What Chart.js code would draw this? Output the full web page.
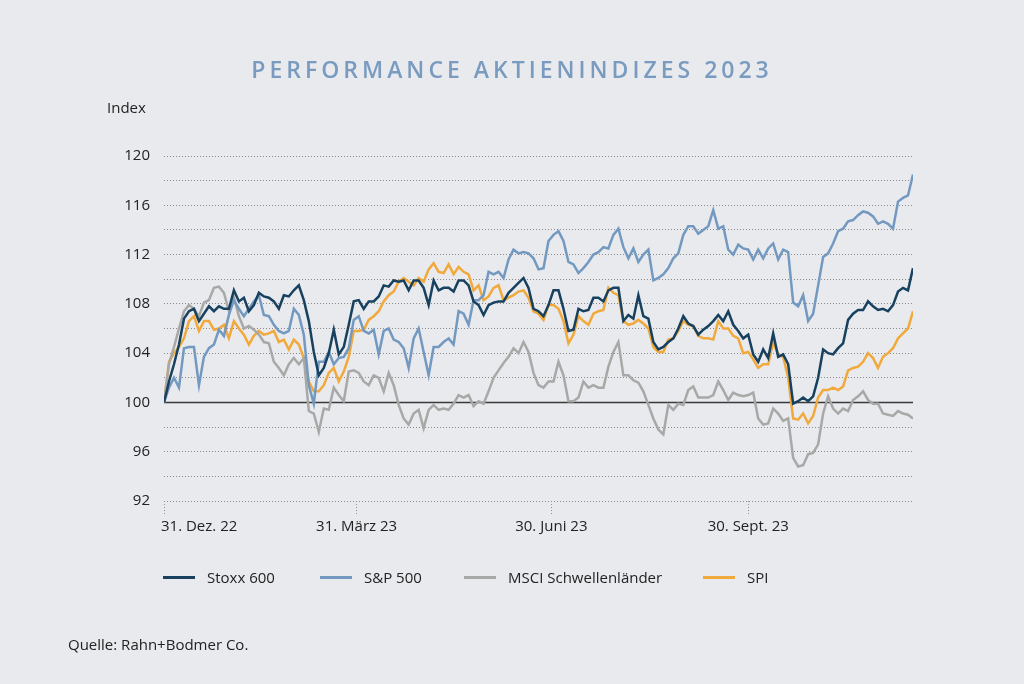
<!DOCTYPE html>
<html>
<head>
<meta charset="utf-8">
<script src="https://cdn.jsdelivr.net/npm/chart.js@4/dist/chart.umd.min.js"></script>
<style>
  body { margin: 0; background: #e8eaee; font-family: 'Open Sans', sans-serif; color: #222; }
  #wrap { position: relative; width: 1024px; height: 684px; }
  #wrap canvas { position: absolute; left: 0; top: 0; }
  .txt { position: absolute; white-space: nowrap; }
  #title { left: 0; width: 1024px; top: 53px; text-align: center; font-size: 23px; font-weight: 600; letter-spacing: 4px; color: #7a9bc0; }
  #index { left: 107px; top: 97px; font-size: 15px; }
  .leg { position: absolute; top: 567px; font-size: 15px; height: 20px; line-height: 20px; white-space: nowrap; }
  .leg i { position: absolute; left: 0; top: 9px; width: 32px; height: 3px; }
  .leg span { position: absolute; left: 44px; white-space: nowrap; }
  #source { left: 68px; top: 634px; font-size: 15px; }
</style>
</head>
<body>
<div id="wrap">
  <canvas id="myChart" width="1024" height="684"></canvas>
  <div class="txt" id="title">PERFORMANCE AKTIENINDIZES 2023</div>
  <div class="txt" id="index">Index</div>
  <div id="legend"></div>
  <div class="txt" id="source">Quelle: Rahn+Bodmer Co.</div>
</div>
<script>
// x tick positions in days since 31.12.2022
const tickDays = [0, 90, 181, 273];
const tickLabels = ['31. Dez. 22', '31. März 23', '30. Juni 23', '30. Sept. 23'];
const lastDay = 350;  // about 15.12.2023

// index values, one every ~2.3 days
const stoxx = [
  100, 101.7, 103.1, 104.7, 106.8, 107.4, 107.6, 106.6, 107.2, 107.8, 107.4, 107.8, 107.6, 107.6, 109.1, 108.2, 108.5, 107.4, 107.9, 108.9, 108.6, 108.5, 108.2, 107.6, 108.7,
  108.6, 109.1, 109.5, 108.3, 106.6, 104.1, 102.2, 102.8, 104.0, 105.9, 103.9, 104.5, 106.3, 108.2, 108.3, 107.6, 108.2, 108.2, 108.6, 109.5, 109.4, 109.9, 109.8, 109.9, 109.1,
  109.9, 109.9, 109.3, 107.9, 109.9, 109.1, 109.3, 109.3, 109.0, 109.9, 109.9, 109.5, 108.2, 107.9, 107.1, 107.9, 108.1, 108.2, 108.2, 108.9, 109.3, 109.7, 110.1, 109.3, 107.6,
  107.4, 107.0, 107.9, 109.1, 109.1, 107.6, 105.8, 105.9, 107.6, 107.4, 107.5, 108.5, 108.5, 108.2, 109.1, 109.3, 109.3, 106.6, 107.1, 106.8, 108.7, 107.0, 106.8, 104.9, 104.3,
  104.5, 104.9, 105.2, 106.0, 107.0, 106.4, 106.2, 105.5, 105.9, 106.2, 106.6, 107.1, 106.6, 107.4, 106.3, 105.8, 105.2, 105.5, 103.9, 103.3, 104.3, 103.6, 105.6, 103.7, 103.9,
  103.1, 99.9, 100.1, 100.4, 100.1, 100.5, 102.0, 104.3, 104.0, 103.9, 104.4, 104.8, 106.7, 107.2, 107.5, 107.5, 108.2, 107.8, 107.5, 107.6, 107.4, 107.9, 109.0, 109.3, 109.1, 110.9
];
const sp500 = [
  100, 101.2, 102.0, 101.2, 104.4, 104.5, 104.5, 101.4, 103.7, 104.4, 104.7, 105.9, 105.4, 107.1, 108.3, 107.6, 107.0, 107.6, 108.2, 108.7, 107.1, 107.0, 106.3, 105.8, 105.6,
  105.8, 107.6, 107.1, 105.5, 101.4, 99.9, 103.3, 103.3, 104.1, 103.1, 103.6, 103.7, 104.4, 106.7, 107.0, 105.8, 105.6, 105.9, 103.9, 105.8, 106.0, 105.1, 104.9, 104.4, 102.8,
  105.2, 106.0, 104.1, 102.2, 104.5, 104.5, 104.9, 105.2, 104.7, 107.4, 107.2, 106.3, 108.3, 108.3, 108.7, 110.6, 110.4, 110.6, 110.1, 111.6, 112.4, 112.1, 112.2, 112.1, 111.7,
  110.8, 110.9, 113.1, 113.6, 113.9, 113.1, 111.4, 111.2, 110.5, 110.9, 111.4, 112.0, 112.2, 112.6, 112.5, 113.6, 114.1, 112.6, 111.7, 112.5, 111.4, 112.0, 112.4, 109.9, 110.1,
  110.4, 110.9, 111.7, 112.1, 113.6, 114.3, 114.3, 113.7, 114.0, 114.3, 115.6, 114.1, 114.3, 112.4, 112.0, 112.8, 112.5, 112.4, 111.6, 112.4, 111.7, 112.5, 112.9, 111.6, 112.4,
  112.2, 108.1, 107.8, 108.7, 106.6, 107.2, 109.5, 111.8, 112.1, 112.9, 113.9, 114.1, 114.7, 114.8, 115.2, 115.5, 115.4, 115.1, 114.5, 114.7, 114.5, 114.1, 116.3, 116.6, 116.8, 118.5
];
const msciEm = [
  100, 103.1, 104.5, 106.0, 107.4, 107.9, 107.6, 107.0, 108.1, 108.3, 109.3, 109.4, 108.9, 107.4, 108.5, 107.0, 106.0, 106.2, 105.9, 105.5, 104.9, 104.8, 103.3, 102.8, 102.2,
  103.1, 103.6, 103.1, 103.6, 99.3, 99.1, 97.6, 99.5, 99.4, 101.2, 100.6, 100.1, 102.5, 102.6, 102.4, 101.7, 101.4, 102.2, 102.0, 100.9, 102.4, 101.4, 99.8, 98.7, 98.2,
  99.1, 99.4, 97.9, 99.4, 99.8, 99.4, 99.5, 99.4, 99.9, 100.6, 100.4, 100.6, 99.7, 100.1, 99.9, 100.9, 102.0, 102.6, 103.2, 103.7, 104.4, 104.0, 104.9, 104.1, 102.4,
  101.4, 101.2, 101.7, 101.7, 103.3, 102.2, 100.1, 100.1, 100.4, 101.7, 101.2, 101.4, 101.2, 101.2, 102.9, 104.1, 104.9, 102.2, 102.2, 101.8, 101.6, 100.9, 99.8, 98.7, 97.8,
  97.4, 99.8, 99.4, 99.9, 99.8, 101.0, 101.3, 100.4, 100.4, 100.4, 100.6, 101.7, 101.0, 100.2, 100.8, 100.6, 100.5, 100.6, 100.8, 98.7, 98.2, 98.3, 99.5, 99.1, 98.5,
  98.7, 95.5, 94.8, 94.9, 95.8, 95.9, 96.6, 99.1, 100.5, 99.5, 99.1, 99.5, 99.3, 100.2, 100.5, 100.9, 100.2, 99.9, 99.9, 99.1, 99.0, 98.9, 99.3, 99.1, 99.0, 98.7
];
const spi = [
  100, 103.3, 104.0, 104.5, 105.2, 106.6, 107.0, 105.8, 106.6, 106.6, 105.9, 106.0, 106.3, 105.2, 106.6, 106.0, 105.5, 104.7, 105.4, 105.8, 105.5, 105.6, 105.8, 104.9, 105.1,
  104.3, 105.1, 104.7, 103.6, 101.7, 100.9, 100.9, 101.4, 102.4, 102.8, 101.7, 102.5, 103.7, 105.8, 105.8, 105.9, 106.7, 107.0, 107.4, 108.2, 108.7, 109.0, 109.8, 110.1, 109.8,
  109.5, 110.1, 109.8, 110.8, 111.3, 110.6, 110.5, 111.2, 110.4, 111.0, 110.6, 110.4, 109.1, 109.5, 108.3, 108.6, 109.3, 109.5, 108.3, 108.5, 108.7, 109.0, 109.1, 108.5, 107.4,
  107.2, 106.7, 107.9, 107.9, 107.6, 106.6, 104.8, 105.5, 107.0, 106.6, 106.3, 107.2, 107.4, 107.5, 109.3, 108.9, 108.7, 106.6, 106.3, 106.4, 106.7, 106.4, 106.0, 104.5, 104.1,
  104.1, 105.1, 105.2, 105.8, 106.6, 106.3, 106.2, 105.4, 105.2, 105.2, 105.1, 106.6, 106.0, 106.0, 105.4, 105.2, 104.0, 104.1, 103.5, 102.8, 103.1, 103.1, 104.9, 103.9, 103.7,
  102.0, 98.7, 98.6, 99.1, 98.3, 98.9, 100.4, 101.0, 101.0, 101.2, 101.0, 101.3, 102.6, 102.8, 102.9, 103.3, 104.0, 103.6, 102.8, 103.7, 104.0, 104.4, 105.2, 105.6, 106.0, 107.4
];

const seriesNames = ['Stoxx 600', 'S&P 500', 'MSCI Schwellenländer', 'SPI'];
const seriesColors = ['#17415e', '#7399c0', '#a8a8a7', '#f2a93b'];
const seriesValues = [stoxx, sp500, msciEm, spi];

const toPoints = (vals) => {
  const step = lastDay / (vals.length - 1);
  return vals.map((v, i) => ({x: i * step, y: v}));
};

// legend in html, fixed slots as in the original
const legendLeft = [163, 320, 464, 703];
const legend = document.getElementById('legend');
seriesNames.forEach((name, i) => {
  const d = document.createElement('div');
  d.className = 'leg';
  d.style.left = legendLeft[i] + 'px';
  d.innerHTML = `<i style="background:${seriesColors[i]}"></i><span>${name}</span>`;
  legend.appendChild(d);
});

const extras = {
  id: 'extras',
  beforeDatasetsDraw(chart) {
    const {ctx, chartArea, scales: {y}} = chart;
    const py = Math.round(y.getPixelForValue(100)) + 0.5;
    ctx.save();
    ctx.strokeStyle = '#3a3a3a';
    ctx.lineWidth = 1.3;
    ctx.beginPath();
    ctx.moveTo(chartArea.left, py);
    ctx.lineTo(chartArea.right, py);
    ctx.stroke();
    ctx.restore();
  },
  afterDraw(chart) {
    const {ctx, scales: {x}} = chart;
    ctx.save();
    ctx.font = '15px "Open Sans", sans-serif';
    ctx.fillStyle = '#222';
    ctx.textBaseline = 'middle';
    tickDays.forEach((d, i) => {
      const px = x.getPixelForValue(d);
      ctx.textAlign = i === 0 ? 'left' : 'center';
      ctx.fillText(tickLabels[i], i === 0 ? px - 3 : px, 527);
    });
    ctx.restore();
  }
};

const ctx = document.getElementById('myChart');
const chart = new Chart(ctx, {
  type: 'line',
  data: {
    datasets: seriesValues.map((vals, i) => ({
      label: seriesNames[i],
      data: toPoints(vals),
      borderColor: seriesColors[i],
      borderWidth: 2.5,
      pointRadius: 0,
      tension: 0,
      fill: false
    }))
  },
  options: {
    responsive: false,
    animation: false,
    events: [],
    layout: {padding: {left: 104, right: 111, top: 156, bottom: 163}},
    plugins: {legend: {display: false}, tooltip: {enabled: false}},
    scales: {
      x: {
        type: 'linear',
        min: 0,
        max: lastDay,
        afterBuildTicks: (axis) => { axis.ticks = tickDays.map(v => ({value: v})); },
        afterFit: (scale) => { scale.height = 20; },
        ticks: {display: false},
        border: {display: false},
        grid: {
          drawOnChartArea: false,
          drawTicks: true,
          tickLength: 15,
          tickColor: '#8f8f8f',
          tickWidth: 1,
          tickBorderDash: [1, 2]
        }
      },
      y: {
        min: 92,
        max: 120,
        afterFit: (scale) => { scale.width = 60; },
        ticks: {
          stepSize: 2,
          padding: 14,
          color: '#222',
          font: {family: 'Open Sans', size: 15},
          callback: (v) => (v % 4 === 0 ? v : '')
        },
        border: {display: false, dash: [1, 2]},
        grid: {color: '#8a8a8a', lineWidth: 1, drawTicks: false}
      }
    }
  },
  plugins: [extras]
});
</script>
</body>
</html>
